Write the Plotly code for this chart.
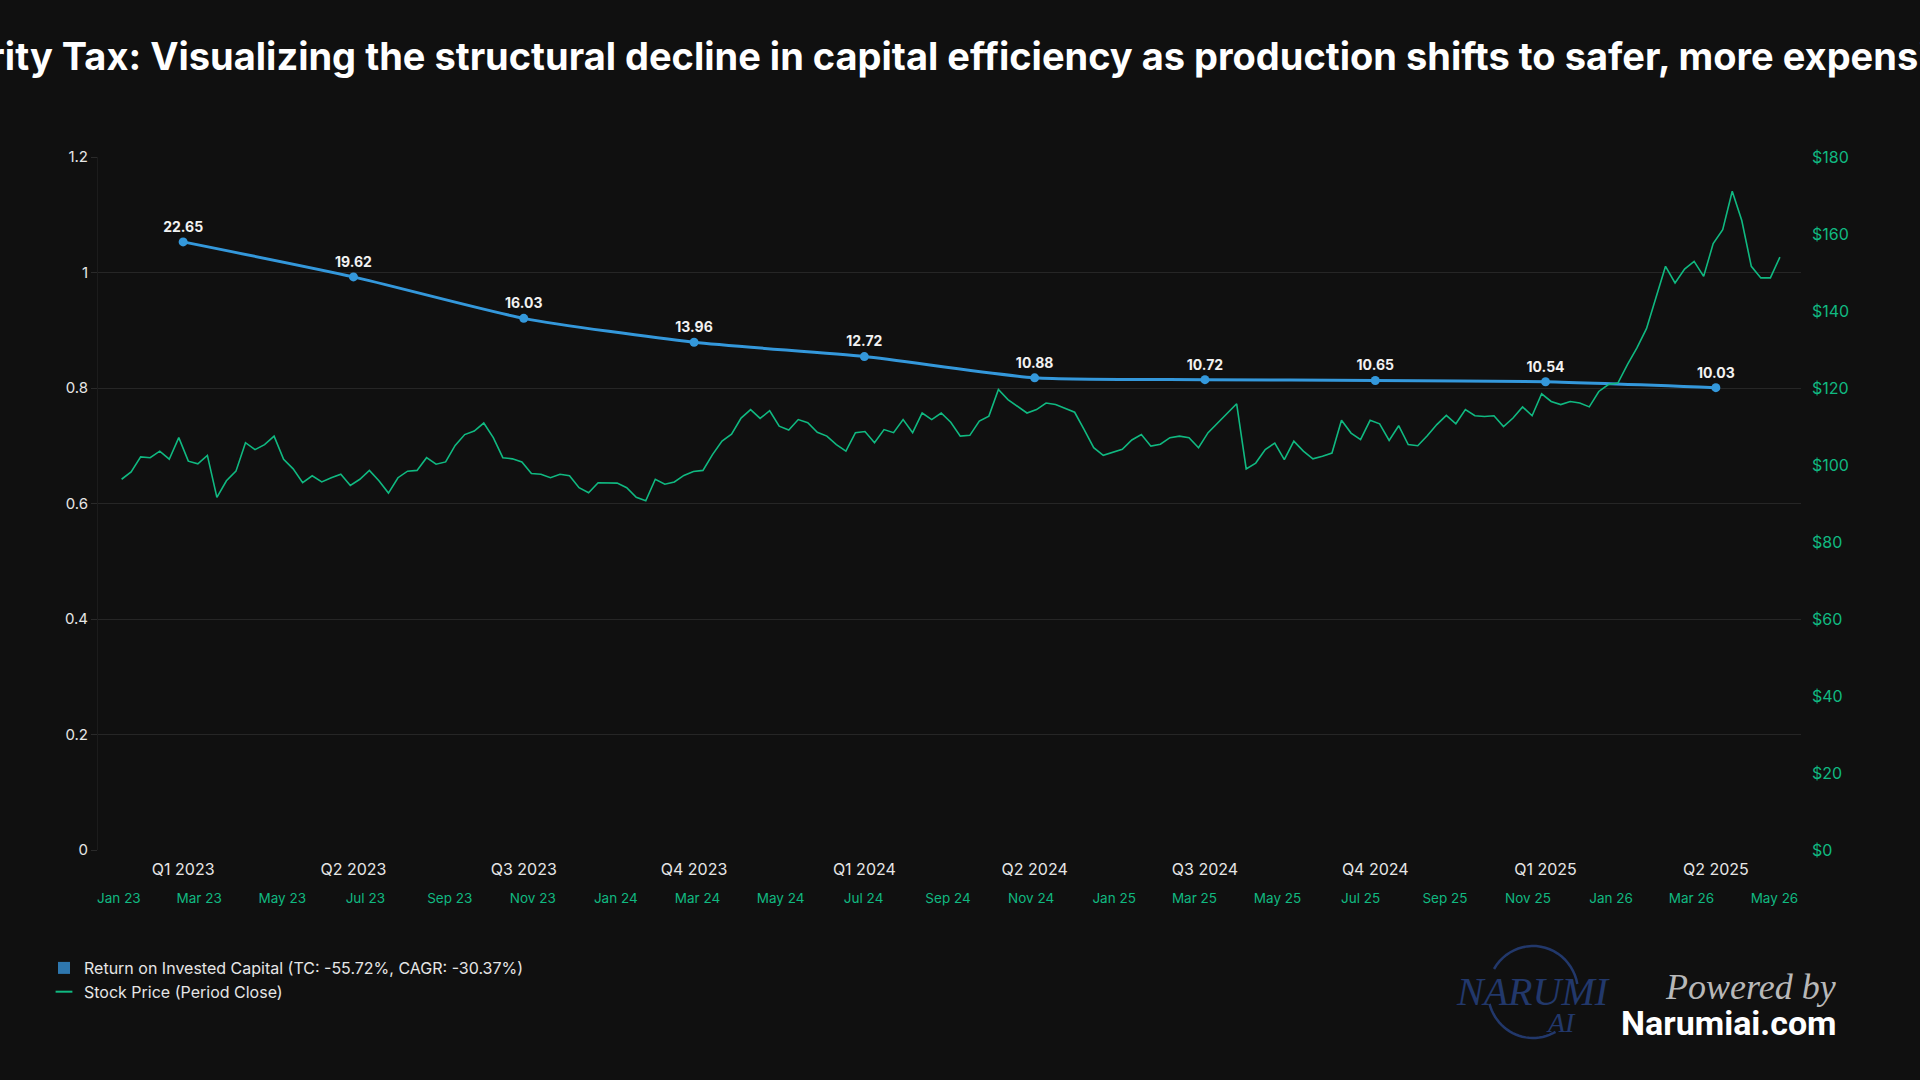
import math
import plotly.graph_objects as go
import pandas as pd

# ---------------- data ----------------
quarters = ["Q1 2023", "Q2 2023", "Q3 2023", "Q4 2023", "Q1 2024",
            "Q2 2024", "Q3 2024", "Q4 2024", "Q1 2025", "Q2 2025"]
roic = [22.65, 19.62, 16.03, 13.96, 12.72, 10.88, 10.72, 10.65, 10.54, 10.03]

price_start = "2023-01-03"   # weekly closes
stock_close = [
    96.3, 98.2, 102.1, 101.9, 103.6, 101.5, 107.1, 101.0, 100.3, 102.5,
    91.6, 95.9, 98.4, 105.8, 104.0, 105.3, 107.5, 101.5, 99.0, 95.4,
    97.2, 95.6, 96.7, 97.6, 94.7, 96.3, 98.6, 95.9, 92.7, 96.7,
    98.4, 98.6, 101.9, 100.2, 100.8, 105.1, 107.9, 108.8, 110.9, 107.1,
    101.9, 101.6, 100.8, 97.8, 97.6, 96.7, 97.6, 97.2, 94.1, 92.8,
    95.4, 95.3, 95.3, 94.1, 91.6, 90.7, 96.3, 95.0, 95.6, 97.3,
    98.3, 98.6, 102.7, 106.2, 108.0, 112.2, 114.4, 112.1, 114.1, 110.1,
    109.1, 111.8, 111.0, 108.5, 107.5, 105.3, 103.6, 108.4, 108.7, 105.8,
    109.2, 108.4, 111.8, 108.4, 113.5, 111.8, 113.5, 111.1, 107.5, 107.7,
    111.4, 112.7, 119.6, 117.0, 115.3, 113.5, 114.4, 116.1, 115.7, 114.8,
    113.7, 109.2, 104.5, 102.5, 103.2, 104.1, 106.5, 107.9, 104.9, 105.4,
    107.1, 107.5, 107.1, 104.5, 108.4, 110.9, 113.5, 115.9, 99.0, 100.5,
    104.0, 105.7, 101.4, 106.2, 103.6, 101.6, 102.3, 103.1, 111.6, 108.3,
    106.6, 111.6, 110.7, 106.4, 110.2, 105.3, 105.0, 107.6, 110.5, 112.9,
    110.7, 114.4, 112.8, 112.6, 112.8, 110.0, 112.2, 115.1, 112.8, 118.5,
    116.5, 115.7, 116.5, 116.1, 115.1, 119.1, 120.9, 121.3, 126.1, 130.4,
    135.4, 143.8, 151.6, 147.3, 150.9, 152.9, 149.0, 157.5, 161.1, 171.1,
    163.5, 151.6, 148.6, 148.6, 154.0,
]
stock_dates = pd.date_range(start=price_start, periods=len(stock_close), freq="7D")

roic_name = "Return on Invested Capital (TC: -55.72%, CAGR: -30.37%)"
stock_name = "Stock Price (Period Close)"
title_text = ("The Security Tax: Visualizing the structural decline in capital efficiency "
              "as production shifts to safer, more expensive basins")

# ---------------- style ----------------
BG = "#101010"
GRID = "#262626"
BLUE = "#3498db"
GREEN = "#10b981"
TXT = "#e6e6e6"
NAVY = "#22386b"
FONT = "Inter"

W, H = 1920, 1080
PL, PR, PT, PB = 98, 1801, 157, 880   # paper area in pixels


def px(x):
    return (x - PL) / (PR - PL)


def py(y):
    return (PB - y) / (PB - PT)


def arc_path(cx, cy, rx, ry, a0, a1, steps=24):
    pts = []
    for k in range(steps + 1):
        a = math.radians(a0 + (a1 - a0) * k / steps)
        pts.append((px(cx + rx * math.cos(a)), py(cy - ry * math.sin(a))))
    return "M " + " L ".join(f"{x:.5f},{y:.5f}" for x, y in pts)


fig = go.Figure()

fig.add_trace(go.Scatter(
    x=stock_dates, y=stock_close, xaxis="x2", yaxis="y2", mode="lines",
    line=dict(color=GREEN, width=1.6), name=stock_name, showlegend=False,
    hovertemplate="%{x|%b %d, %Y}: $%{y:.2f}<extra></extra>",
))

fig.add_trace(go.Scatter(
    x=quarters, y=roic, xaxis="x", yaxis="y3", mode="lines+markers+text",
    line=dict(color=BLUE, width=3, shape="spline", smoothing=0.6),
    marker=dict(color=BLUE, size=9),
    text=[f"{v:.2f}" for v in roic], textposition="top center",
    textfont=dict(color="#f2f2f2", size=14, family=FONT, weight="bold"),
    name=roic_name, showlegend=False,
))

# legend proxies
fig.add_trace(go.Scatter(
    x=[None], y=[None], mode="markers", name=roic_name,
    marker=dict(symbol="square", size=12, color="#2e77ae"),
))
fig.add_trace(go.Scatter(
    x=[None], y=[None], mode="markers", name=stock_name,
    marker=dict(symbol="line-ew", size=12, line=dict(color=GREEN, width=3)),
))

dom0 = py(850)

fig.update_layout(
    width=W, height=H,
    paper_bgcolor=BG, plot_bgcolor=BG,
    margin=dict(l=PL, r=W - PR, t=PT, b=H - PB),
    font=dict(family=FONT, color=TXT),
    title=dict(text=title_text, x=0.5, xref="container", xanchor="center",
               y=1 - 57 / H, yref="container", yanchor="middle",
               font=dict(size=38, color="#ffffff", family=FONT, weight="bold")),
    showlegend=True,
    legend=dict(x=px(44), y=py(951), xanchor="left", yanchor="top",
                orientation="v", bgcolor="rgba(0,0,0,0)",
                font=dict(size=16, color=TXT, family=FONT), itemsizing="constant"),
    xaxis=dict(type="category", categoryorder="array", categoryarray=quarters,
               range=[-0.5, len(quarters) - 0.5], anchor="y",
               showgrid=False, zeroline=False, showline=False, ticks="",
               ticklabelstandoff=8,
               tickfont=dict(size=16, color=TXT)),
    xaxis2=dict(type="date", overlaying="x", anchor="free", position=0,
                range=["2022-12-16 16:00", "2026-05-20 12:00"],
                tick0="2023-01-01", dtick="M2", tickformat="%b %y",
                showgrid=False, zeroline=False, showline=False, ticks="",
                ticklabelstandoff=8,
                tickfont=dict(size=13.5, color=GREEN)),
    yaxis=dict(domain=[dom0, 1], range=[0, 1.2], dtick=0.2, anchor="x",
               gridcolor=GRID, zeroline=False, showline=True, linecolor="#1c1c1c",
               ticks="outside", ticklen=6, tickcolor="#2a2a2a",
               tickfont=dict(size=15, color=TXT)),
    yaxis2=dict(overlaying="y", side="right", anchor="x", range=[0, 180], dtick=20,
                tickprefix="$", showgrid=False, zeroline=False, showline=False,
                ticklabelstandoff=10,
                tickfont=dict(size=16, color=GREEN)),
    yaxis3=dict(overlaying="y", anchor="x", range=[-30, 30], visible=False),
)

# watermark / branding
fig.add_shape(type="path", xref="paper", yref="paper",
              path=arc_path(1533, 992, 45, 46, 150, 10),
              line=dict(color=NAVY, width=2.5), layer="below")
fig.add_shape(type="path", xref="paper", yref="paper",
              path=arc_path(1533, 992, 45, 46, 195, 300),
              line=dict(color=NAVY, width=2.5), layer="below")
fig.add_annotation(x=px(1533), y=py(992), xref="paper", yref="paper", showarrow=False,
                   text="<i>NARUMI</i>", xanchor="center", yanchor="middle",
                   font=dict(family="Liberation Serif", size=40, color=NAVY))
fig.add_annotation(x=px(1561), y=py(1022), xref="paper", yref="paper", showarrow=False,
                   text="<i>AI</i>", xanchor="center", yanchor="middle",
                   font=dict(family="Liberation Serif", size=28, color=NAVY))
fig.add_annotation(x=px(1838), y=py(987), xref="paper", yref="paper", showarrow=False,
                   text="<i>Powered by</i>", xanchor="right", yanchor="middle",
                   font=dict(family="Liberation Serif", size=36, color="#b8b8b8"))
fig.add_annotation(x=px(1839), y=py(1023), xref="paper", yref="paper", showarrow=False,
                   text="<b>Narumiai.com</b>", xanchor="right", yanchor="middle",
                   font=dict(family="Roboto", size=34, color="#ffffff"))

fig.write_html("out.html")
